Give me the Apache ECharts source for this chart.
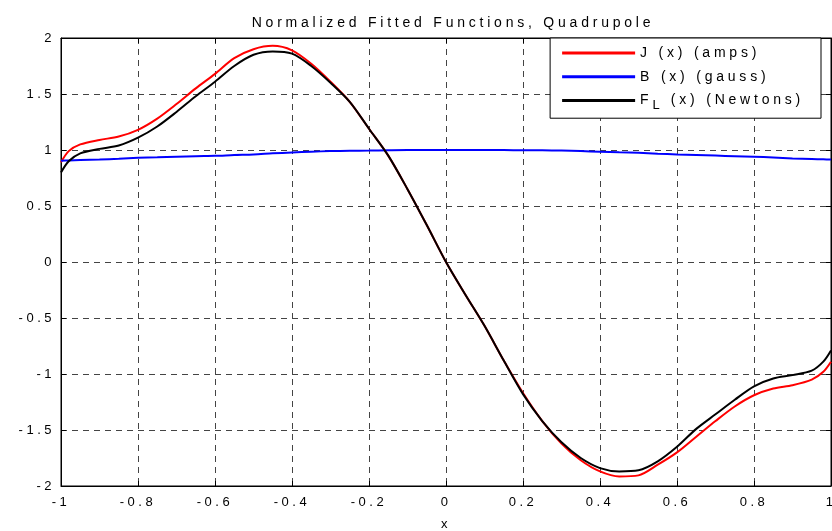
<!DOCTYPE html>
<html>
<head>
<meta charset="utf-8">
<script src="https://cdn.jsdelivr.net/npm/echarts@6/dist/echarts.min.js"></script>
<style>html,body{margin:0;padding:0;background:#fff;}#c{width:832px;height:531px;}</style>
</head>
<body>
<div id="c"></div>
<script>
const xs = [-1, -0.98, -0.95, -0.9, -0.85, -0.8, -0.75, -0.7, -0.65, -0.6, -0.55, -0.5, -0.45, -0.4, -0.35, -0.3, -0.25, -0.2, -0.15, -0.1, -0.05, 0, 0.05, 0.1, 0.15, 0.2, 0.25, 0.3, 0.35, 0.4, 0.45, 0.5, 0.55, 0.6, 0.65, 0.7, 0.75, 0.8, 0.85, 0.9, 0.95, 0.98, 1];
const jAmps = [0.89, 0.99, 1.05, 1.09, 1.12, 1.18, 1.28, 1.41, 1.55, 1.68, 1.82, 1.90, 1.93, 1.89, 1.77, 1.61, 1.43, 1.19, 0.95, 0.65, 0.33, 0.0, -0.29, -0.57, -0.88, -1.17, -1.42, -1.62, -1.77, -1.87, -1.915, -1.905, -1.81, -1.70, -1.56, -1.42, -1.29, -1.19, -1.13, -1.10, -1.05, -0.98, -0.89];
const bGauss = [0.905, 0.907, 0.91, 0.915, 0.922, 0.93, 0.935, 0.94, 0.945, 0.948, 0.955, 0.96, 0.97, 0.978, 0.985, 0.99, 0.993, 0.995, 0.998, 1.0, 1.0, 1.0, 1.0, 1.0, 0.999, 0.998, 0.997, 0.995, 0.99, 0.985, 0.98, 0.975, 0.967, 0.96, 0.955, 0.95, 0.945, 0.94, 0.933, 0.925, 0.92, 0.917, 0.915];
const fNewtons = [0.80, 0.90, 0.97, 1.01, 1.04, 1.11, 1.21, 1.34, 1.48, 1.61, 1.75, 1.85, 1.88, 1.86, 1.75, 1.60, 1.43, 1.19, 0.95, 0.65, 0.33, 0.0, -0.29, -0.57, -0.88, -1.18, -1.42, -1.61, -1.75, -1.84, -1.87, -1.86, -1.78, -1.65, -1.49, -1.36, -1.23, -1.11, -1.04, -1.01, -0.97, -0.89, -0.79];
const seriesNames = ['J (x) (amps)', 'B (x) (gauss)', 'F_L (x) (Newtons)'];
const xTicks = {min: -1, max: 1, interval: 0.2};
const yTicks = {min: -2, max: 2, interval: 0.5};

// Wide letter spacing as in the reference (applied to both measuring and drawing)
(function () {
  const P = CanvasRenderingContext2D.prototype;
  const spacing = (ctx) => {
    const m = /(\d+(?:\.\d+)?)px/.exec(ctx.font || '');
    const size = m ? parseFloat(m[1]) : 12;
    return (size * 0.27).toFixed(2) + 'px';
  };
  const origFill = P.fillText, origStroke = P.strokeText, origMeasure = P.measureText;
  P.fillText = function (t, x, y, w) { try { this.letterSpacing = spacing(this); } catch (e) {} return w === undefined ? origFill.call(this, t, x, y) : origFill.call(this, t, x, y, w); };
  P.strokeText = function (t, x, y, w) { try { this.letterSpacing = spacing(this); } catch (e) {} return w === undefined ? origStroke.call(this, t, x, y) : origStroke.call(this, t, x, y, w); };
  P.measureText = function (t) { try { this.letterSpacing = spacing(this); } catch (e) {} return origMeasure.call(this, t); };
})();

const pair = (ys) => xs.map((x, i) => [x, ys[i]]);
const font = 'Liberation Sans, Arial, sans-serif';
const chart = echarts.init(document.getElementById('c'), null, {renderer: 'canvas'});
const axisCommon = {
  axisLine: {show: true, onZero: false, lineStyle: {color: '#000', width: 1}},
  axisTick: {show: true, inside: true, length: 5, lineStyle: {color: '#000'}},
  splitLine: {show: true, lineStyle: {color: '#444', type: [6, 5], width: 1}},
  axisLabel: {color: '#000', fontSize: 13, fontFamily: font}
};
const mirror = {
  axisLine: {show: true, onZero: false, lineStyle: {color: '#000', width: 1}},
  axisTick: {show: true, inside: true, length: 5, lineStyle: {color: '#000'}},
  splitLine: {show: false},
  axisLabel: {show: false}
};
chart.setOption({
  animation: false,
  backgroundColor: '#fff',
  title: {
    text: 'Normalized Fitted Functions, Quadrupole',
    left: 448, top: 9, textAlign: 'center',
    textStyle: {fontSize: 14, fontWeight: 'normal', color: '#000', fontFamily: font}
  },
  grid: {left: 61, right: 1, top: 38, bottom: 45, show: true, borderColor: '#000', borderWidth: 1, containLabel: false, outerBoundsMode: 'none'},
  legend: {
    orient: 'vertical', right: 11, top: 38,
    backgroundColor: '#fff', borderColor: '#000', borderWidth: 1,
    padding: [6, 17, 5, 12], itemGap: 6,
    itemWidth: 73, itemHeight: 3, icon: 'rect',
    data: seriesNames,
    formatter: (n) => n === 'F_L (x) (Newtons)' ? 'F{sub|L} (x) (Newtons)' : n,
    textStyle: {fontSize: 14, color: '#000', fontFamily: font,
      rich: {sub: {fontSize: 13, fontFamily: font, color: '#000', padding: [9, 0, 0, 0]}}}
  },
  xAxis: [
    Object.assign({}, axisCommon, {
      type: 'value', position: 'bottom', min: xTicks.min, max: xTicks.max, interval: xTicks.interval,
      name: 'x', nameLocation: 'middle', nameGap: 30,
      nameTextStyle: {fontSize: 13, color: '#000', fontFamily: font},
      axisLabel: Object.assign({}, axisCommon.axisLabel, {margin: 8})
    }),
    Object.assign({}, mirror, {type: 'value', position: 'top', min: xTicks.min, max: xTicks.max, interval: xTicks.interval})
  ],
  yAxis: [
    Object.assign({}, axisCommon, {
      type: 'value', position: 'left', min: yTicks.min, max: yTicks.max, interval: yTicks.interval,
      axisLabel: Object.assign({}, axisCommon.axisLabel, {margin: 6})
    }),
    Object.assign({}, mirror, {type: 'value', position: 'right', min: yTicks.min, max: yTicks.max, interval: yTicks.interval})
  ],
  series: [
    {name: seriesNames[0], type: 'line', data: pair(jAmps), showSymbol: false, smooth: 0.3, lineStyle: {color: '#ff0000', width: 2}, itemStyle: {color: '#ff0000'}, z: 2},
    {name: seriesNames[1], type: 'line', data: pair(bGauss), showSymbol: false, smooth: 0.3, lineStyle: {color: '#0000ff', width: 2}, itemStyle: {color: '#0000ff'}, z: 3},
    {name: seriesNames[2], type: 'line', data: pair(fNewtons), showSymbol: false, smooth: 0.3, lineStyle: {color: '#000000', width: 2}, itemStyle: {color: '#000000'}, z: 4}
  ]
});
</script>
</body>
</html>
